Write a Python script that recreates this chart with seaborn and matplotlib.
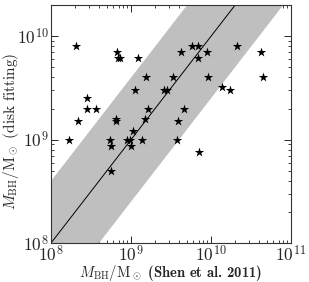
import numpy as np
import pandas as pd
import matplotlib
matplotlib.use("Agg")
import matplotlib.pyplot as plt
import matplotlib.ticker as mticker
import seaborn as sns

# Masses (Shen et al. 2011 vs disk fitting)
m_shen = [2.05e8, 6.7e8, 6.9e8, 7.3e8, 1.23e9, 1.55e9, 1.12e9, 2.8e8, 2.8e8, 3.7e8,
          1.63e9, 2.15e8, 6.5e8, 6.5e8, 1.5e9, 1.05e9, 1.7e8, 5.5e8, 5.6e8, 8.9e8,
          9.7e8, 1.0e9, 1.37e9, 5.6e8, 4.2e9, 5.8e9, 6.9e9, 8.9e9, 6.9e9, 2.1e10,
          4.2e10, 3.35e9, 9.2e9, 4.5e10, 2.6e9, 2.8e9, 1.37e10, 1.73e10, 4.6e9, 3.9e9,
          3.8e9, 7.1e9]
m_disk = [8.0e9, 7.1e9, 6.1e9, 6.1e9, 6.1e9, 4.0e9, 3.0e9, 2.5e9, 2.0e9, 2.0e9,
          2.0e9, 1.5e9, 1.6e9, 1.5e9, 1.6e9, 1.2e9, 1.0e9, 1.0e9, 8.7e8, 1.0e9,
          1.0e9, 8.7e8, 1.0e9, 5.0e8, 7.1e9, 8.0e9, 8.0e9, 7.1e9, 6.1e9, 8.0e9,
          7.1e9, 4.0e9, 4.0e9, 4.0e9, 3.0e9, 3.0e9, 3.2e9, 3.0e9, 2.0e9, 1.5e9,
          1.0e9, 7.6e8]

band_dex = 0.6
x_lim = [1e8, 1e11]
y_lim = [1e8, 2e10]

sns.set_theme(style="ticks")
plt.rcParams["font.family"] = ["DejaVu Serif"]
plt.rcParams["mathtext.fontset"] = "cm"

df = pd.DataFrame({"shen": m_shen, "disk": m_disk})

fig = plt.figure(figsize=(3.09, 2.82), dpi=100)
ax = fig.add_axes([0.165, 0.138, 0.777, 0.844])

# 1:1 relation with +/- band
xx = np.logspace(7, 12, 200)
ax.fill_between(xx, xx / 10**band_dex, xx * 10**band_dex, color="#bfbfbf", lw=0, zorder=1)
ax.plot(xx, xx, color="black", lw=0.7, zorder=2)

sns.scatterplot(data=df, x="shen", y="disk", marker="*", s=50, color="black",
                edgecolor="black", linewidth=0, ax=ax, zorder=3)

ax.set_xscale("log")
ax.set_yscale("log")
ax.set_xlim(x_lim)
ax.set_ylim(y_lim)

fmt = mticker.FuncFormatter(lambda v, p: r"$10^{%d}$" % round(np.log10(v)))
ax.xaxis.set_major_formatter(fmt)
ax.yaxis.set_major_formatter(fmt)

ax.tick_params(which="both", direction="in", top=True, right=True, labelsize=12.5)
ax.tick_params(which="major", length=5, width=0.7, pad=1.5)
ax.tick_params(which="minor", length=2.5, width=0.6)
for sp in ax.spines.values():
    sp.set_linewidth(0.8)
    sp.set_color("#333333")

# Computer Modern text fonts shipped with matplotlib
ax.set_xlabel(r"$M_{\rm BH}/{\rm M}_\odot$ (Shen et al. 2011)", fontsize=10.5,
              fontfamily=["cmb10", "DejaVu Serif"])
ax.xaxis.set_label_coords(0.5, -0.085)
ax.set_ylabel(r"$M_{\rm BH}/{\rm M}_\odot$ (disk fitting)", fontsize=11,
              fontfamily=["cmr10", "DejaVu Serif"])
ax.yaxis.set_label_coords(-0.125, 0.47)

fig.savefig("out.png", dpi=100)
